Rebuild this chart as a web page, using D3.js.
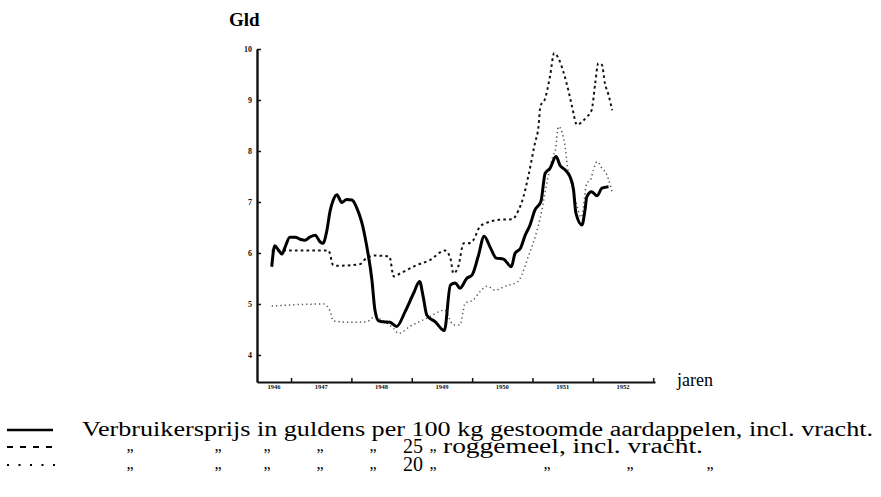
<!DOCTYPE html>
<html>
<head>
<meta charset="utf-8">
<script src="https://cdn.jsdelivr.net/npm/d3@7"></script>
<style>
  body { margin: 0; background: #fff; }
  svg { display: block; }
</style>
</head>
<body>
<div id="chart"></div>
<script>
// prices in guilders (decimal year, value)
var potatoYears = [1946.68, 1946.73, 1946.79, 1946.85, 1946.90, 1946.98, 1947.07, 1947.15, 1947.23, 1947.31,
    1947.40, 1947.48, 1947.53, 1947.59, 1947.65, 1947.70, 1947.76, 1947.84, 1947.92, 1948.01,
    1948.09, 1948.17, 1948.25, 1948.34, 1948.39, 1948.45, 1948.53, 1948.64, 1948.75, 1948.89,
    1949.03, 1949.13, 1949.19, 1949.25, 1949.39, 1949.54, 1949.64, 1949.72, 1949.80, 1949.91,
    1950.00, 1950.10, 1950.20, 1950.30, 1950.40, 1950.52, 1950.65, 1950.71, 1950.80, 1950.88,
    1950.96, 1951.04, 1951.14, 1951.21, 1951.29, 1951.39, 1951.46, 1951.54, 1951.62, 1951.68,
    1951.72, 1951.82, 1951.87, 1951.90, 1951.98, 1952.07, 1952.15, 1952.26];
var potatoPrice = [5.73, 6.14, 6.06, 5.98, 6.11, 6.31, 6.31, 6.27, 6.25, 6.31,
    6.35, 6.22, 6.19, 6.42, 6.84, 7.04, 7.14, 6.99, 7.05, 7.04,
    6.88, 6.61, 6.16, 5.47, 4.88, 4.67, 4.65, 4.64, 4.56, 4.85,
    5.21, 5.44, 5.14, 4.78, 4.65, 4.48, 5.37, 5.41, 5.31, 5.50,
    5.57, 5.93, 6.33, 6.11, 5.90, 5.88, 5.73, 5.99, 6.09, 6.35,
    6.55, 6.84, 7.01, 7.56, 7.66, 7.89, 7.71, 7.63, 7.50, 7.24,
    6.78, 6.55, 6.84, 7.10, 7.20, 7.12, 7.27, 7.30];

var rye25Years = [1946.68, 1947.62, 1947.70, 1947.78, 1948.14, 1948.25, 1948.39, 1948.63, 1948.70, 1948.81,
    1949.08, 1949.30, 1949.55, 1949.64, 1949.69, 1949.77, 1949.86, 1949.94, 1950.02, 1950.13,
    1950.22, 1950.44, 1950.66, 1950.77, 1950.85, 1950.93, 1951.04, 1951.10, 1951.13, 1951.21,
    1951.29, 1951.36, 1951.43, 1951.51, 1951.60, 1951.65, 1951.74, 1951.82, 1951.90, 1951.98,
    1952.04, 1952.09, 1952.15, 1952.20, 1952.26, 1952.32];
var rye25Price = [6.05, 6.05, 5.76, 5.75, 5.78, 5.90, 5.95, 5.93, 5.54, 5.60,
    5.76, 5.86, 6.05, 5.90, 5.60, 5.73, 6.19, 6.19, 6.25, 6.52,
    6.58, 6.65, 6.66, 6.84, 7.10, 7.50, 8.15, 8.48, 8.87, 9.03,
    9.46, 9.92, 9.82, 9.56, 9.16, 8.90, 8.51, 8.57, 8.67, 8.80,
    9.33, 9.72, 9.69, 9.33, 9.10, 8.80];

var rye20Years = [1946.68, 1947.54, 1947.65, 1947.70, 1947.98, 1948.25, 1948.39, 1948.52, 1948.70, 1948.78,
    1948.97, 1949.25, 1949.55, 1949.62, 1949.69, 1949.80, 1949.85, 1949.88, 1950.02, 1950.13,
    1950.25, 1950.38, 1950.55, 1950.76, 1950.88, 1950.93, 1950.99, 1951.13, 1951.26, 1951.34,
    1951.38, 1951.43, 1951.51, 1951.54, 1951.58, 1951.64, 1951.72, 1951.81, 1951.90, 1951.96,
    1952.01, 1952.07, 1952.17, 1952.20, 1952.32];
var rye20Price = [4.96, 5.00, 4.85, 4.67, 4.64, 4.65, 4.75, 4.67, 4.52, 4.42,
    4.56, 4.72, 4.88, 4.72, 4.59, 4.59, 4.85, 5.01, 5.08, 5.24,
    5.35, 5.27, 5.35, 5.44, 5.75, 5.93, 6.12, 6.70, 7.50, 7.90,
    8.02, 8.48, 8.28, 8.09, 7.69, 7.40, 7.00, 6.70, 7.37, 7.43,
    7.63, 7.79, 7.63, 7.60, 7.20];

var yTicks = [4, 5, 6, 7, 8, 9, 10];
var yearTicks = [1947, 1948, 1949, 1950, 1951, 1952, 1953];
var yearLabels = ['1946', '1947', '1948', '1949', '1950', '1951', '1952'];

var width = 881, height = 497;
var serif = 'Liberation Serif, Times New Roman, Tinos, serif';

var svg = d3.select('#chart').append('svg')
    .attr('width', width)
    .attr('height', height)
    .attr('font-family', serif);

var x = d3.scaleLinear().domain([1946.436, 1953.03]).range([257, 655]);
var y = d3.scaleLinear().domain([3.47, 10]).range([382, 49]);

// y axis, ticks pointing inwards
var yAxis = d3.axisLeft(y)
    .tickValues(yTicks)
    .tickSizeInner(-4)
    .tickSizeOuter(0)
    .tickPadding(5)
    .tickFormat(d3.format('d'));

var gy = svg.append('g')
    .attr('transform', 'translate(' + x.range()[0] + ',0)')
    .call(yAxis)
    .attr('font-family', serif);
gy.select('.domain').attr('stroke', '#111').attr('stroke-width', 2.4);
gy.selectAll('.tick line').attr('stroke', '#111').attr('stroke-width', 1.5);
gy.selectAll('.tick text')
    .attr('font-weight', 'bold')
    .attr('font-size', 8)
    .attr('fill', '#111');

// x axis, ticks at year boundaries
var xAxis = d3.axisBottom(x)
    .tickValues(yearTicks)
    .tickSizeInner(-4)
    .tickSizeOuter(0)
    .tickFormat('');

var gx = svg.append('g')
    .attr('transform', 'translate(0,' + y.range()[0] + ')')
    .call(xAxis);
gx.select('.domain').attr('stroke', '#111').attr('stroke-width', 2);
gx.selectAll('.tick line').attr('stroke', '#111').attr('stroke-width', 1.5);

// year labels sit in the middle of each year
var bounds = [x.domain()[0]].concat(yearTicks);
svg.selectAll('.year-label')
    .data(yearLabels)
    .enter()
    .append('text')
    .attr('class', 'year-label')
    .attr('x', function(d, i) { return x((bounds[i] + bounds[i + 1]) / 2); })
    .attr('y', y.range()[0] + 7)
    .attr('text-anchor', 'middle')
    .attr('font-size', 6.5)
    .attr('font-weight', 'bold')
    .attr('fill', '#111')
    .text(function(d) { return d; });

svg.append('text')
    .attr('x', 229)
    .attr('y', 26)
    .attr('font-size', 19)
    .attr('font-weight', 'bold')
    .text('Gld');

svg.append('text')
    .attr('x', 677)
    .attr('y', y.range()[0] + 4)
    .attr('font-size', 18)
    .text('jaren');

// the three series
var line = d3.line()
    .x(function(d) { return x(d[0]); })
    .y(function(d) { return y(d[1]); })
    .curve(d3.curveMonotoneX);

var series = [
    { years: rye20Years, values: rye20Price, width: 1.5, dash: '1.3,3', color: '#555' },
    { years: rye25Years, values: rye25Price, width: 2, dash: '2.6,3.2', color: '#111' },
    { years: potatoYears, values: potatoPrice, width: 3, dash: null, color: '#000' }
];

svg.selectAll('.series')
    .data(series)
    .enter()
    .append('path')
    .attr('class', 'series')
    .attr('fill', 'none')
    .attr('stroke', function(d) { return d.color; })
    .attr('stroke-width', function(d) { return d.width; })
    .attr('stroke-dasharray', function(d) { return d.dash; })
    .attr('stroke-linejoin', 'round')
    .attr('d', function(d) { return line(d3.zip(d.years, d.values)); });

// legend
var legendY = [436, 453, 471];
var legend = svg.append('g').attr('class', 'legend').attr('font-family', serif);

legend.append('line').attr('x1', 7).attr('x2', 53).attr('y1', legendY[0] - 6).attr('y2', legendY[0] - 6)
    .attr('stroke', '#000').attr('stroke-width', 2.4);
legend.append('line').attr('x1', 7).attr('x2', 55).attr('y1', legendY[1] - 6).attr('y2', legendY[1] - 6)
    .attr('stroke', '#000').attr('stroke-width', 2).attr('stroke-dasharray', '6,7');
legend.append('line').attr('x1', 7).attr('x2', 62).attr('y1', legendY[2] - 6).attr('y2', legendY[2] - 6)
    .attr('stroke', '#000').attr('stroke-width', 2).attr('stroke-dasharray', '2,9.5');

legend.append('text')
    .attr('x', 82)
    .attr('y', legendY[0])
    .attr('font-size', 20)
    .attr('textLength', 791)
    .attr('lengthAdjust', 'spacingAndGlyphs')
    .text('Verbruikersprijs in guldens per 100 kg gestoomde aardappelen, incl. vracht.');

var dittoX = [130, 218, 267, 320, 373];
[1, 2].forEach(function(row) {
    dittoX.concat([433]).forEach(function(dx) {
        legend.append('text').attr('x', dx).attr('y', legendY[row] - 2)
            .attr('font-size', 16).attr('text-anchor', 'middle').text('\u201E');
    });
});

legend.append('text').attr('x', 403).attr('y', legendY[1]).attr('font-size', 20).text('25');
legend.append('text').attr('x', 403).attr('y', legendY[2]).attr('font-size', 20).text('20');
legend.append('text').attr('x', 443).attr('y', legendY[1]).attr('font-size', 20)
    .attr('textLength', 260).attr('lengthAdjust', 'spacingAndGlyphs')
    .text('roggemeel, incl. vracht.');

[547, 630, 710].forEach(function(dx) {
    legend.append('text').attr('x', dx).attr('y', legendY[2] - 2)
        .attr('font-size', 16).attr('text-anchor', 'middle').text('\u201E');
});
</script>
</body>
</html>
